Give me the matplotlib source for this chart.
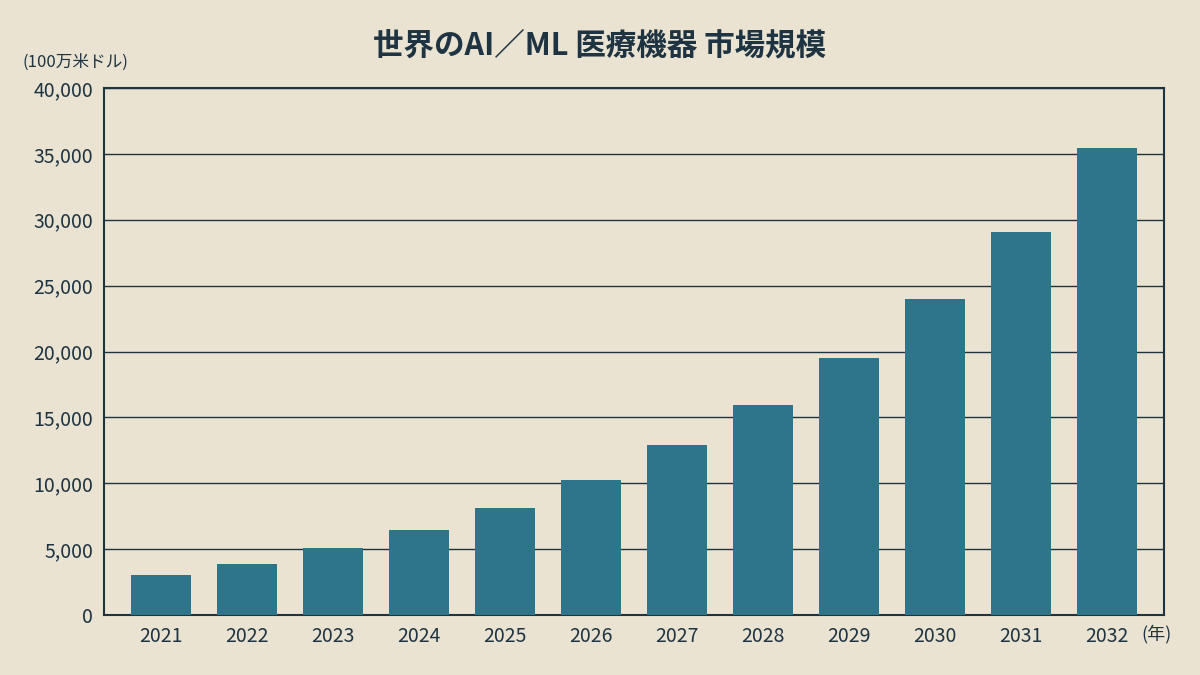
import matplotlib
matplotlib.use("Agg")
import matplotlib.pyplot as plt

plt.rcParams["font.family"] = "Noto Sans CJK JP"

years = ["2021","2022","2023","2024","2025","2026","2027","2028","2029","2030","2031","2032"]
values = [3050, 3900, 5100, 6450, 8120, 10250, 12900, 15950, 19500, 24000, 29100, 35450]
yticks = [0, 5000, 10000, 15000, 20000, 25000, 30000, 35000, 40000]

bg = "#EAE3D1"
bar = "#2E7589"
dark = "#1E3442"

fig = plt.figure(figsize=(12, 6.75), dpi=100, facecolor=bg)
ax = fig.add_axes([104/1200, 60/675, 1060/1200, 527/675])
ax.set_facecolor(bg)
x = range(len(years))
ax.bar(x, values, width=0.70, color=bar, zorder=3)
ax.set_xlim(-0.663, len(years)-1+0.663)
ax.set_ylim(0, 40000)
ax.set_yticks(yticks)
ax.set_yticklabels([f"{v:,}" for v in yticks], fontsize=14, color=dark)
ax.set_xticks(list(x))
ax.set_xticklabels(years, fontsize=14, color=dark)
ax.grid(axis="y", color=dark, linewidth=1, zorder=0)
ax.tick_params(length=0, pad=8)
for s in ax.spines.values():
    s.set_color(dark); s.set_linewidth(1.5)
fig.text(0.5, 1-45/675, "世界のAI／ML 医療機器 市場規模", ha="center", va="center",
         fontsize=22, fontweight="bold", color=dark)
fig.text(22/1200, 1-62/675, "(100万米ドル)", ha="left", va="center", fontsize=12, color=dark)
fig.text(1141/1200, 1-634/675, "(年)", ha="left", va="center", fontsize=13, color=dark)
fig.savefig("out.png", facecolor=bg)
